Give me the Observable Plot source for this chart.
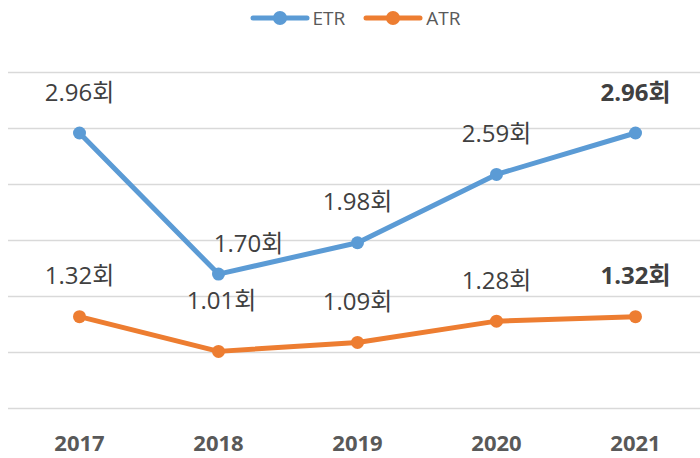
<!DOCTYPE html>
<html><head><meta charset="utf-8">
<script src="https://cdn.jsdelivr.net/npm/d3@7"></script>
<script src="https://cdn.jsdelivr.net/npm/@observablehq/plot@0.6"></script>
<style>
body{margin:0;background:#fff;font-family:"Open Sans","Noto Sans CJK KR",sans-serif;}
#legend{height:36px;display:flex;justify-content:center;align-items:center;gap:18px;font-size:19px;color:#595959;padding-left:10px;box-sizing:border-box;}
.item{display:flex;align-items:center;gap:3px;}
</style></head>
<body>
<div id="legend"></div>
<div id="chart"></div>
<script>
const years = ["2017","2018","2019","2020","2021"];
const seriesNames = ["ETR","ATR"];
const etr = [2.96, 1.70, 1.98, 2.59, 2.96];
const atr = [1.32, 1.01, 1.09, 1.28, 1.32];
const colors = ["#5B9BD5","#ED7D31"];
const yTicks = [0.5,1.0,1.5,2.0,2.5,3.0,3.5];

// label offsets (layout only)
const labelOffsets = {
  "ETR-2018": [30, -30],
  "ATR-2018": [3, -50]
};

const data = [];
[etr, atr].forEach((vals, si) => {
  vals.forEach((v, i) => data.push({series: seriesNames[si], year: years[i], value: v, last: i === years.length - 1}));
});

// legend
const lg = document.getElementById("legend");
seriesNames.forEach((s, i) => {
  const el = document.createElement("div");
  el.className = "item";
  el.innerHTML = `<svg width="60" height="16"><line x1="3" x2="57" y1="8" y2="8" stroke="${colors[i]}" stroke-width="5" stroke-linecap="round"/><circle cx="30" cy="8" r="7" fill="${colors[i]}"/></svg><span>${s}</span>`;
  lg.appendChild(el);
});

const font = '"Open Sans","Noto Sans CJK KR",sans-serif';
const labelMarks = data.map(d => {
  const off = labelOffsets[d.series + "-" + d.year] || [0, -40];
  return Plot.text([d], {
    x: "year", y: "value", text: v => v.value.toFixed(2) + "회",
    dx: off[0], dy: off[1], fontSize: 24, fill: "#404040",
    fontWeight: d.last ? "bold" : "normal", fontFamily: font
  });
});

const chart = Plot.plot({
  width: 700, height: 422,
  marginLeft: 8, marginRight: 0, marginTop: 36, marginBottom: 50,
  x: {type: "point", domain: years, insetLeft: 70, insetRight: 64, padding: 0},
  y: {domain: [0.5, 3.5], axis: null},
  color: {domain: seriesNames, range: colors},
  style: {fontFamily: font},
  marks: [
    Plot.ruleY(yTicks, {stroke: "#d9d9d9", strokeWidth: 1.5}),
    Plot.axisX({tickSize: 0, tickPadding: 27, fontSize: 22, fontWeight: "bold", fill: "#595959", label: null, fontFamily: font}),
    Plot.line(data, {x: "year", y: "value", z: "series", stroke: "series", strokeWidth: 5, strokeLinecap: "round", strokeLinejoin: "round"}),
    Plot.dot(data, {x: "year", y: "value", fill: "series", r: 6.5}),
    ...labelMarks
  ]
});
document.getElementById("chart").appendChild(chart);
</script>
</body></html>
